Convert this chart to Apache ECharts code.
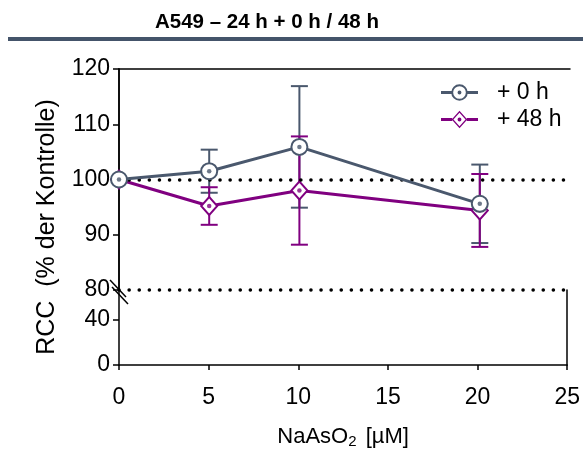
<!DOCTYPE html>
<html>
<head>
<meta charset="utf-8">
<script src="https://cdn.jsdelivr.net/npm/echarts@6/dist/echarts.min.js"></script>
<style>
  html, body { margin: 0; padding: 0; background: #fff; }
  #chart { width: 583px; height: 450px; }
</style>
</head>
<body>
<div id="chart"></div>
<script>
// NaAsO2 concentrations (µM)
const doses = [0, 5, 10, 20];
// RCC in % of control, mean and SD, measured directly (+0 h) and after 48 h recovery
const rcc0h = [100, 101.5, 105.9, 95.6];
const sd0h = [0, 3.9, 11.0, 7.1];
const rcc48h = [100, 95.2, 98.0, 94.4];
const sd48h = [0, 3.4, 9.8, 6.6];
// axis tick values
const xTicks = [0, 5, 10, 15, 20, 25];
const yTicksUpper = [80, 90, 100, 110, 120];
const yTicksLower = [0, 40];
const refLines = [100, 80];
const seriesNames = ['+ 0 h', '+ 48 h'];

const FONT = "'Liberation Sans', Arial, sans-serif";
const SLATE = '#4a586d';
const PURPLE = '#800080';

// geometry of the broken y-axis: upper part 80–120, lower part 0–40
const L = 119, W = 451, TOP = 69, BREAK = 290, BOTTOM = 370;
const lowerMax = 40 * (BOTTOM - BREAK) / (BOTTOM - 322);

const points = (ys) => doses.map((d, i) => [d, ys[i]]);
const bars = (ys, sd) => doses.map((d, i) => [d, ys[i] - sd[i], ys[i] + sd[i]]);

function errorBar(color, width) {
  return function (params, api) {
    const x = api.value(0), lo = api.value(1), hi = api.value(2);
    if (hi === lo) return null;
    const t = api.coord([x, hi]);
    const b = api.coord([x, lo]);
    const hw = 8.5;
    const style = { stroke: color, lineWidth: width, fill: null };
    return {
      type: 'group',
      children: [
        { type: 'line', shape: { x1: t[0], y1: t[1], x2: b[0], y2: b[1] }, style },
        { type: 'line', shape: { x1: t[0] - hw, y1: t[1], x2: t[0] + hw, y2: t[1] }, style },
        { type: 'line', shape: { x1: b[0] - hw, y1: b[1], x2: b[0] + hw, y2: b[1] }, style }
      ]
    };
  };
}

// legend icons: line with open marker and a centre dot
const iconCircle = 'path://M0,7.5H11V10.5H0Z M27,7.5H38V10.5H27Z ' +
  'M10.5,9A8.5,8.5 0 1 1 27.5,9A8.5,8.5 0 1 1 10.5,9Z ' +
  'M12.5,9A6.5,6.5 0 1 0 25.5,9A6.5,6.5 0 1 0 12.5,9Z ' +
  'M17,9A2,2 0 1 1 21,9A2,2 0 1 1 17,9Z';
const iconDiamond = 'path://M0,7.5H11.5V10.5H0Z M26.5,7.5H38V10.5H26.5Z ' +
  'M19,0L27,9L19,18L11,9Z ' +
  'M19,2.1L12.8,9L19,15.9L25.2,9Z ' +
  'M17,9A2,2 0 1 1 21,9A2,2 0 1 1 17,9Z';

const axisLineStyle = { color: '#000', width: 1.5 };
const labelStyle = { color: '#000', fontSize: 23, fontFamily: FONT };

const chart = echarts.init(document.getElementById('chart'), null, { renderer: 'canvas' });
chart.setOption({
  animation: false,
  backgroundColor: '#fff',
  title: {
    text: 'A549 – 24 h + 0 h / 48 h',
    left: 150,
    top: 7,
    textStyle: { fontFamily: FONT, fontWeight: 'bold', fontSize: 20.5, color: '#000' }
  },
  legend: {
    orient: 'vertical',
    left: 441,
    top: 81,
    padding: 0,
    itemWidth: 37,
    itemHeight: 18,
    itemGap: 4,
    selectedMode: false,
    itemStyle: { borderWidth: 0 },
    textStyle: { fontFamily: FONT, fontSize: 23, color: '#000', padding: [0, 0, 0, 14] },
    data: [
      { name: seriesNames[0], icon: iconCircle, itemStyle: { color: SLATE, borderWidth: 0 } },
      { name: seriesNames[1], icon: iconDiamond, itemStyle: { color: PURPLE, borderWidth: 0 } }
    ]
  },
  grid: [
    { left: L, top: TOP, width: W, height: BREAK - TOP },
    { left: L, top: BREAK, width: W, height: BOTTOM - BREAK }
  ],
  xAxis: [
    { gridIndex: 0, type: 'value', min: 0, max: 25, show: false },
    { gridIndex: 0, type: 'value', min: 0, max: 25, position: 'top',
      axisLine: { show: true, lineStyle: axisLineStyle }, axisTick: { show: false },
      axisLabel: { show: false }, splitLine: { show: false } },
    { gridIndex: 1, type: 'value', min: xTicks[0], max: xTicks[xTicks.length - 1], interval: 5,
      position: 'bottom',
      axisLine: { show: true, onZero: false, lineStyle: axisLineStyle },
      axisTick: { show: true, length: 5, lineStyle: axisLineStyle },
      axisLabel: Object.assign({ margin: 21 }, labelStyle),
      splitLine: { show: false },
      name: 'NaAsO{sub|2} [µM]',
      nameLocation: 'middle',
      nameGap: 60,
      nameTextStyle: {
        fontFamily: FONT, fontSize: 22, color: '#000',
        rich: { sub: { fontFamily: FONT, fontSize: 15, color: '#000', verticalAlign: 'bottom', padding: [9, 3, 0, 0] } }
      } }
  ],
  yAxis: [
    { gridIndex: 0, type: 'value', min: yTicksUpper[0], max: yTicksUpper[yTicksUpper.length - 1], interval: 10,
      axisLine: { show: true, lineStyle: axisLineStyle },
      axisTick: { show: true, length: 6, lineStyle: axisLineStyle },
      axisLabel: Object.assign({ margin: 9 }, labelStyle),
      splitLine: { show: false } },
    { gridIndex: 0, type: 'value', min: 80, max: 120, position: 'right',
      axisLine: { show: true, lineStyle: axisLineStyle }, axisTick: { show: false },
      axisLabel: { show: false }, splitLine: { show: false } },
    { gridIndex: 1, type: 'value', min: yTicksLower[0], max: lowerMax, interval: 40,
      axisLine: { show: true, onZero: false, lineStyle: axisLineStyle },
      axisTick: { show: true, length: 6, lineStyle: axisLineStyle },
      axisLabel: Object.assign({ margin: 9, showMaxLabel: false,
        formatter: (v) => (yTicksLower.indexOf(v) >= 0 ? String(v) : '') }, labelStyle),
      splitLine: { show: false } },
    { gridIndex: 1, type: 'value', min: 0, max: lowerMax, position: 'right',
      axisLine: { show: true, onZero: false, lineStyle: axisLineStyle }, axisTick: { show: false },
      axisLabel: { show: false }, splitLine: { show: false } }
  ],
  series: [
    {
      name: 'reference',
      type: 'line',
      xAxisIndex: 0, yAxisIndex: 0,
      data: [],
      z: 1,
      silent: true,
      markLine: {
        silent: true,
        symbol: 'none',
        label: { show: false },
        lineStyle: { color: '#000', width: 3.5, type: [0.1, 10], cap: 'round' },
        data: refLines.map((v) => ({ yAxis: v }))
      }
    },
    {
      name: 'err0h', type: 'custom', xAxisIndex: 0, yAxisIndex: 0, z: 2, silent: true,
      renderItem: errorBar(SLATE, 2), encode: { x: 0, y: [1, 2] },
      data: bars(rcc0h, sd0h)
    },
    {
      name: 'err48h', type: 'custom', xAxisIndex: 0, yAxisIndex: 0, z: 2, silent: true,
      renderItem: errorBar(PURPLE, 2), encode: { x: 0, y: [1, 2] },
      data: bars(rcc48h, sd48h)
    },
    {
      name: seriesNames[1], type: 'line', xAxisIndex: 0, yAxisIndex: 0, z: 3,
      data: points(rcc48h),
      symbol: 'emptyDiamond', symbolSize: [16, 18],
      lineStyle: { color: PURPLE, width: 3 },
      itemStyle: { color: PURPLE, borderWidth: 1.6 }
    },
    {
      name: 'dot48h', type: 'scatter', xAxisIndex: 0, yAxisIndex: 0, z: 4, silent: true,
      data: points(rcc48h), symbol: 'circle', symbolSize: 4.5, itemStyle: { color: PURPLE }
    },
    {
      name: seriesNames[0], type: 'line', xAxisIndex: 0, yAxisIndex: 0, z: 5,
      data: points(rcc0h),
      symbol: 'emptyCircle', symbolSize: 16,
      lineStyle: { color: SLATE, width: 3 },
      itemStyle: { color: SLATE, borderWidth: 2 }
    },
    {
      name: 'dot0h', type: 'scatter', xAxisIndex: 0, yAxisIndex: 0, z: 6, silent: true,
      data: points(rcc0h), symbol: 'circle', symbolSize: 4.5, itemStyle: { color: SLATE }
    }
  ],
  graphic: [
    { type: 'rect', left: 8, top: 37, shape: { width: 575, height: 4 }, style: { fill: '#44546a' }, silent: true },
    {
      type: 'text', x: 47, y: 227, rotation: Math.PI / 2, silent: true,
      style: { text: 'RCC  (% der Kontrolle)', fontFamily: FONT, fontSize: 25, fill: '#000',
        align: 'center', verticalAlign: 'middle' }
    },
    // axis break marks
    { type: 'line', z: 10, shape: { x1: 110, y1: 280, x2: 126, y2: 297 }, style: { stroke: '#000', lineWidth: 1.5 }, silent: true },
    { type: 'line', z: 10, shape: { x1: 112, y1: 287, x2: 128, y2: 304 }, style: { stroke: '#000', lineWidth: 1.5 }, silent: true }
  ]
});
</script>
</body>
</html>
